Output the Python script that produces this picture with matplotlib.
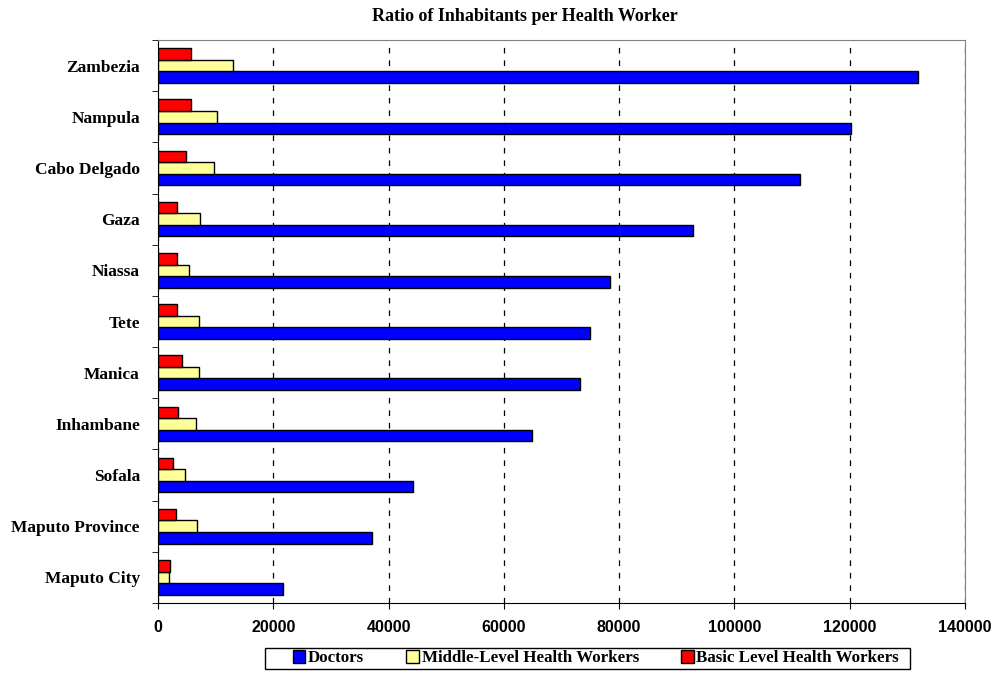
import numpy as np
import matplotlib.pyplot as plt
from matplotlib.patches import Rectangle
from matplotlib.ticker import MultipleLocator

# provinces listed bottom to top as they appear on the chart
provinces = ['Maputo City', 'Maputo Province', 'Sofala', 'Inhambane', 'Manica',
             'Tete', 'Niassa', 'Gaza', 'Cabo Delgado', 'Nampula', 'Zambezia']
doctors = [21600, 37100, 44200, 64900, 73200, 75000, 78500, 92800, 111300, 120200, 131900]
middle_level = [1960, 6700, 4620, 6650, 7170, 7170, 5380, 7340, 9650, 10290, 13070]
basic_level = [2020, 3170, 2530, 3470, 4160, 3300, 3300, 3230, 4860, 5660, 5780]

serif = 'Liberation Serif'
sans = 'Liberation Sans'

fig = plt.figure(figsize=(9.93, 6.77), dpi=100)
ax = fig.add_axes([158 / 993, 74 / 677, 807 / 993, 563 / 677])

y = np.arange(len(provinces))
h = 0.225
ax.barh(y - h, doctors, height=h, color='#0000FF', edgecolor='black', linewidth=1, label='Doctors', zorder=3)
ax.barh(y, middle_level, height=h, color='#FFFF99', edgecolor='black', linewidth=1,
        label='Middle-Level Health Workers', zorder=3)
ax.barh(y + h, basic_level, height=h, color='#FF0000', edgecolor='black', linewidth=1,
        label='Basic Level Health Workers', zorder=3)

ax.set_xlim(0, 140000)
ax.set_ylim(-0.5, len(provinces) - 0.5)
ax.xaxis.set_major_locator(MultipleLocator(20000))
ax.grid(axis='x', color='black', linestyle=(0, (4.5, 5.5)), linewidth=0.9, zorder=1)

ax.set_yticks(y)
ax.set_yticklabels(provinces, fontfamily=serif, fontweight='bold', fontsize=12.5)
ax.set_yticks(np.arange(-0.5, len(provinces), 1), minor=True)
ax.tick_params(axis='y', which='major', length=0, pad=13)
ax.tick_params(axis='y', which='minor', length=4, direction='out', color='black')
ax.tick_params(axis='x', length=4, direction='out', pad=8)
for lab in ax.get_xticklabels():
    lab.set_fontfamily(sans)
    lab.set_fontweight('bold')
    lab.set_fontsize(11.5)

for s in ['left', 'bottom']:
    ax.spines[s].set_color('black')
for s in ['top', 'right']:
    ax.spines[s].set_color('#808080')

fig.suptitle('Ratio of Inhabitants per Health Worker', x=0.529, y=0.988,
             fontfamily=serif, fontweight='bold', fontsize=13)

# legend entries without frame, box drawn separately (Excel style padding)
fig.legend(loc='center', bbox_to_anchor=(0.600, 0.0275), ncol=3,
           prop={'family': serif, 'weight': 'bold', 'size': 12.2},
           handlelength=0.75, handleheight=0.75, handletextpad=0.15,
           columnspacing=2.5, frameon=False, borderpad=0, borderaxespad=0)
fig.patches.append(Rectangle((265 / 993, 8 / 677), 645 / 993, 21 / 677,
                             transform=fig.transFigure, fill=False,
                             edgecolor='black', linewidth=1))

fig.savefig('out.png', dpi=100)
